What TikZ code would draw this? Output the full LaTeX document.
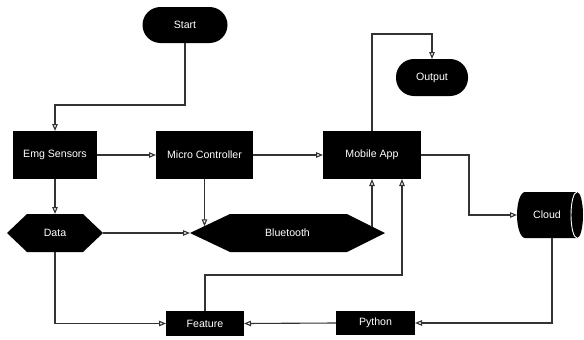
\documentclass[tikz,border=0pt]{standalone}
\usepackage{fontspec}
\setmainfont{Liberation Sans}
\usetikzlibrary{arrows.meta,calc}
\tikzset{
  blk/.style={fill=black, text=white, inner sep=0pt, outer sep=0pt, font=\fontsize{10.6}{12}\selectfont},
  pill/.style={blk, rounded corners=18pt},
  hexa/.style 2 args={blk, fill=none, path picture={
    \fill[black] (path picture bounding box.west)
      -- ([xshift=#1]path picture bounding box.north west)
      -- ([xshift=-#2]path picture bounding box.north east)
      -- (path picture bounding box.east)
      -- ([xshift=-#2]path picture bounding box.south east)
      -- ([xshift=#1]path picture bounding box.south west) -- cycle;}},
  conn/.style={draw=black!80, line width=1.1pt},
  arr/.style={conn, -{Triangle[open, length=7pt, width=5.5pt, fill=white]}}
}
\begin{document}
\begin{tikzpicture}[x=1pt, y=-1pt]
\useasboundingbox (0,0) rectangle (584,340);
% nodes
\node[pill, minimum width=85pt, minimum height=36pt] (start) at (185,25) {Start};
\node[pill, minimum width=72pt, minimum height=37pt] (output) at (432,77.5) {Output};
\node[blk, minimum width=84pt, minimum height=48pt] (emg) at (55,155) {Emg Sensors};
\node[blk, minimum width=97pt, minimum height=48pt] (micro) at (204.5,155) {Micro Controller};
\node[blk, minimum width=98pt, minimum height=48pt] (app) at (372,155) {Mobile App};
\node[hexa={20pt}{20pt}, minimum width=96pt, minimum height=38pt] (data) at (55,233) {Data};
\node[hexa={40pt}{38pt}, minimum width=195pt, minimum height=38pt] (bt) at (287.5,233) {Bluetooth};
\node[blk, minimum width=78pt, minimum height=25pt] (feature) at (205,323.5) {Feature};
\node[blk, minimum width=79pt, minimum height=24pt] (python) at (375.5,323) {Python};
% cloud cylinder
\fill[black] (525,192) -- (577,192) arc[start angle=90, end angle=-90, x radius=6pt, y radius=23pt]
  -- (525,238) arc[start angle=270, end angle=90, x radius=8pt, y radius=23pt] -- cycle;
\draw[white, line width=0.9pt] (577,192) arc[start angle=90, end angle=270, x radius=6pt, y radius=23pt];
\node[blk, fill=none, minimum width=60pt, minimum height=46pt] (cloud) at (547,215) {Cloud};
% helper points on Bluetooth slants
\coordinate (btl) at ($(bt.west)!0.35!([xshift=40pt]bt.north west)$);
\coordinate (btr) at ($([xshift=-38pt]bt.north east)!0.658!(bt.east)$);
% connectors
\draw[arr] (start.south) -- ++(0,62) -| (emg.north);
\draw[arr] (emg.east) -- (micro.west);
\draw[arr] (micro.east) -- (app.west);
\draw[arr] (emg.south) -- (data.north);
\draw[arr] (micro.south) -- (micro.south |- btl);
\draw[arr] (data.east) -- (bt.west);
\draw[arr] (btr) -- (btr |- app.south);
\draw[arr] (app.north) -- ++(0,-97) -| (output.north);
\draw[arr] (app.east) -- ++(48,0) |- (cloud.west);
\draw[arr] ([xshift=5pt]cloud.south) |- (python.east);
\draw[arr] (python.west) -- (feature.east);
\draw[arr] (data.south) |- (feature.west);
\draw[arr] (feature.north) -- ++(0,-36) -| ([xshift=30pt]app.south);
\end{tikzpicture}
\end{document}
